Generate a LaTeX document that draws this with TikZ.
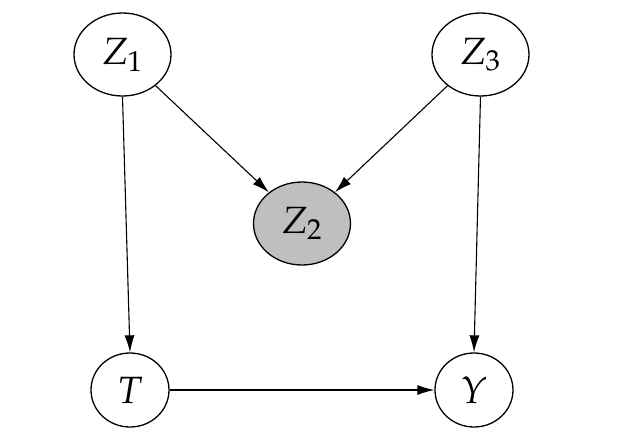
\documentclass[tikz,border=0pt]{standalone}
\usepackage{mathpazo}
\usetikzlibrary{shapes.geometric,arrows.meta}
\begin{document}
\begin{tikzpicture}[x=0.5pt,y=-0.5pt,
  var/.style={ellipse,draw,line width=0.65pt,inner sep=0pt,font=\fontsize{19}{22}\selectfont},
  big/.style={var,minimum width=48.5pt,minimum height=41.5pt},
  small/.style={var,minimum width=39pt,minimum height=37pt},
  edge/.style={line width=0.55pt,-{Latex[length=8.5pt,width=5pt]}}]
\useasboundingbox (0,0) rectangle (629,435);
\node[big] (z1) at (122.5,54.5) {$Z_1$};
\node[big] (z3) at (480.5,54.5) {$Z_3$};
\node[big,fill=black!25] (z2) at (302,223.5) {$Z_2$};
\node[small] (t) at (130,390) {$T$};
\node[small] (y) at (474,390) {$Y$};
\draw[edge] (z1) -- (z2);
\draw[edge] (z3) -- (z2);
\draw[edge] (z1.south) -- (t.north);
\draw[edge] (z3.south) -- (y.north);
\draw[edge] (t) -- (y);
\end{tikzpicture}
\end{document}
